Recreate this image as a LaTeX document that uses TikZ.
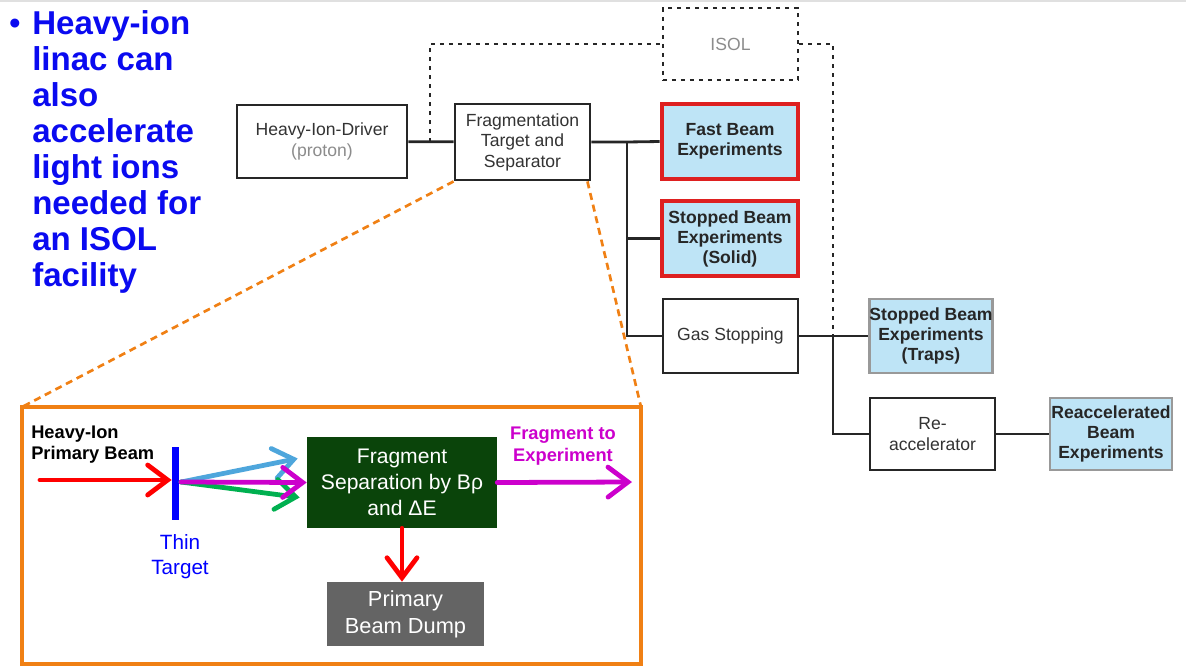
\documentclass[tikz,border=0pt]{standalone}
\usepackage{fontspec}
\setmainfont{Liberation Sans}
\usetikzlibrary{arrows.meta}
\definecolor{txtgray}{RGB}{51,51,51}
\definecolor{expblue}{RGB}{190,228,246}
\definecolor{expred}{RGB}{222,32,32}
\definecolor{orangeline}{RGB}{240,128,20}
\definecolor{sepgreen}{RGB}{10,68,10}
\definecolor{dumpgray}{RGB}{100,100,100}
\definecolor{fanblue}{RGB}{78,166,220}
\definecolor{fanmag}{RGB}{204,0,204}
\definecolor{fangreen}{RGB}{0,176,80}
\definecolor{titleblue}{RGB}{10,10,240}
\begin{document}
\begin{tikzpicture}[x=0.025cm, y=-0.025cm,
  blk/.style={draw=black!85, line width=2pt, fill=white, text=txtgray, align=center, inner sep=0pt,
    font=\fontsize{12.5}{14.6}\selectfont},
  expred/.style={draw=expred, line width=3.4pt, fill=expblue, text=black!85, align=center, inner sep=0pt,
    font=\bfseries\fontsize{12.5}{14.2}\selectfont},
  expgray/.style={expred, draw=black!40, line width=2pt},
  wire/.style={line width=2pt, draw=black!85},
  dots/.style={line width=1.9pt, draw=black!85, dash pattern=on 2.8pt off 3.6pt},
  zoomline/.style={line width=1.9pt, draw=orangeline, dash pattern=on 5pt off 3.5pt},
  beam/.style={line width=3.4pt, line cap=round, -{Straight Barb[length=0.5cm,width=0.75cm,line cap=round]}},
]
\useasboundingbox (0,0) rectangle (1186,666);
\draw[line width=2pt, black!12] (0,1) -- (1186,1);

% left text
\node[anchor=base, text=titleblue, font=\fontsize{23.5}{25.6}\selectfont] (bullet) at (15,34) {•};
\node[anchor=north west, inner sep=0pt, align=left, text=titleblue, font=\bfseries\fontsize{23.5}{25.6}\selectfont] (title) at (32,10)
  {Heavy-ion\\linac can\\also\\accelerate\\light ions\\needed for\\an ISOL\\facility};

% facility layout
\node[blk, minimum width=4.25cm, minimum height=1.825cm] (driver) at (322,141.5)
  {Heavy-Ion-Driver\\\textcolor{black!45}{(proton)}};
\node[blk, minimum width=3.375cm, minimum height=1.9cm] (frag) at (522.5,142)
  {Fragmentation\\Target and\\Separator};
\node[blk, dots, text=black!45, minimum width=3.375cm, minimum height=1.8cm] (isol) at (730.5,44) {ISOL};
\node[expred, minimum width=3.4cm, minimum height=1.875cm] (fast) at (730,141.5) {Fast Beam\\Experiments};
\node[expred, minimum width=3.4cm, minimum height=1.875cm] (solid) at (730,238.5) {Stopped Beam\\Experiments\\(Solid)};
\node[blk, minimum width=3.375cm, minimum height=1.85cm] (gas) at (730.5,336) {Gas Stopping};
\node[expgray, minimum width=3.05cm, minimum height=1.85cm] (traps) at (931,336) {Stopped Beam\\Experiments\\(Traps)};
\node[blk, minimum width=3.125cm, minimum height=1.8cm] (reacc) at (932.5,434) {Re-\\accelerator};
\node[expgray, minimum width=3.05cm, minimum height=1.8cm] (reaccexp) at (1111,434) {Reaccelerated\\Beam\\Experiments};

\coordinate (bus) at (627,142);
\coordinate (split) at (833,336);
\coordinate (isolin) at (430,142);

\draw[wire] (driver) -- (frag);
\draw[wire] (frag.east) -- (bus) -- (fast.west);
\draw[wire] (bus) -- (bus |- gas.west) -- (gas.west);
\draw[wire] (bus |- solid.west) -- (solid.west);
\draw[wire] (gas) -- (traps);
\draw[wire] (split) -- (split |- reacc.west) -- (reacc.west);
\draw[wire] (reacc) -- (reaccexp);
\draw[dots] (isolin) -- (isolin |- isol.west) -- (isol.west);
\draw[dots] (isol.east) -- (split |- isol.east) -- (split);

% zoom into the separator
\draw[line width=2.4pt, orangeline] (22,407) coordinate (inTL) rectangle (641,664);
\coordinate (inTR) at (641,407);
\draw[zoomline] (frag.south west) -- (inTL);
\draw[zoomline] ([xshift=-0.1cm]frag.south east) -- (inTR);

\node[anchor=north west, inner sep=0pt, align=left, font=\bfseries\fontsize{13}{15}\selectfont] (beamlbl) at (31,426)
  {Heavy-Ion\\Primary Beam};
\node[fill=blue, inner sep=0pt, minimum width=0.18cm, minimum height=1.825cm] (target) at (175.5,483.5) {};
\node[text=blue, align=center, font=\fontsize{14.7}{17.8}\selectfont] (tlbl) at (180,557) {Thin\\Target};
\node[fill=sepgreen, text=white, inner sep=0pt, align=center, minimum width=4.75cm, minimum height=2.275cm,
  font=\fontsize{15}{18.5}\selectfont] (sep) at (402,482.5) {Fragment\\Separation by Bρ\\and ΔE};
\node[fill=dumpgray, text=white, inner sep=0pt, align=center, minimum width=3.925cm, minimum height=1.6cm,
  font=\fontsize{15.5}{19}\selectfont] (dump) at (405.5,614) {Primary\\Beam Dump};
\node[text=fanmag, align=center, font=\bfseries\fontsize{13}{15.5}\selectfont] (explbl) at (563,446)
  {Fragment to\\Experiment};

\coordinate (beamstart) at (40,480);
\coordinate (hit) at (181,482);
\coordinate (exp) at (632,482);
\draw[beam, red] (beamstart) -- (beamstart -| target.west);
\draw[beam, fanblue] (hit) -- ([xshift=-0.225cm,yshift=0.6cm]sep.west);
\draw[beam, fangreen] (hit) -- ([xshift=-0.175cm,yshift=-0.375cm]sep.west);
\draw[beam, fanmag] (hit) -- (sep.west);
\draw[beam, fanmag] (sep.east) -- (exp);
\draw[beam, red] (sep.south) -- (sep.south |- dump.north);
\end{tikzpicture}
\end{document}
